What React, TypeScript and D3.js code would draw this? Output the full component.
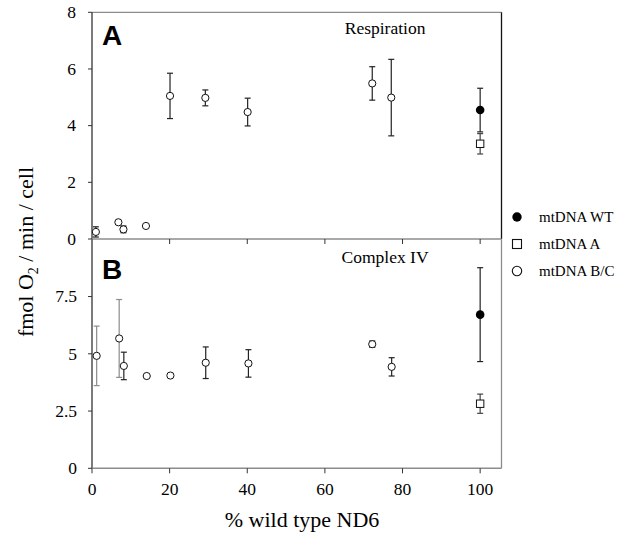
import React from "react";
import * as d3 from "d3";

// ---- data ----
const xTicks = [0, 20, 40, 60, 80, 100];
const yTicksA = [0, 2, 4, 6, 8];
const yTicksB = [0, 2.5, 5, 7.5];

// Panel A: Respiration
const respX = [1, 6.8, 8.1, 13.9, 20.1, 29.2, 40.1, 72.2, 77.1];
const respBC = [0.25, 0.59, 0.34, 0.46, 5.05, 4.98, 4.48, 5.49, 4.99];
const respBCErr = [0.18, 0, 0.12, 0, 0.8, 0.28, 0.49, 0.59, 1.35];
const respBCGray = [false, false, false, false, false, false, false, false, false];
const respWTX = [100];
const respWT = [4.55];
const respWTErr = [0.77];
const respAX = [100];
const respA = [3.36];
const respAErr = [0.36];

// Panel B: Complex IV
const cxX = [1.2, 7.0, 8.2, 14.1, 20.2, 29.3, 40.3, 72.2, 77.2];
const cxBC = [4.91, 5.67, 4.47, 4.03, 4.05, 4.61, 4.58, 5.42, 4.43];
const cxBCErr = [1.3, 1.7, 0.6, 0, 0, 0.69, 0.6, 0.14, 0.4];
const cxBCGray = [true, true, false, false, false, false, false, false, false];
const cxWTX = [100];
const cxWT = [6.71];
const cxWTErr = [2.05];
const cxAX = [100];
const cxA = [2.82];
const cxAErr = [0.42];

const legendLabels = ["mtDNA WT", "mtDNA A", "mtDNA B/C"];

const SERIF = "'Liberation Serif', 'Times New Roman', serif";
const SANS = "'Liberation Sans', Arial, sans-serif";
const GRAY = "#8c8c8c";
const DARK = "#222";

const x = d3.scaleLinear().domain([0, 105.5]).range([92, 501.5]);
const yA = d3.scaleLinear().domain([0, 8]).range([239, 12.3]);
const yB = d3.scaleLinear().domain([0, 10]).range([468.3, 239.3]);

function ErrBar({ cx, y, v, e, color }: { cx: number; y: any; v: number; e: number; color: string }) {
  if (!e) return null;
  const t = y(v + e);
  const b = y(v - e);
  return (
    <g stroke={color} strokeWidth={1.2}>
      <line x1={cx} x2={cx} y1={t} y2={b} />
      <line x1={cx - 3} x2={cx + 3} y1={t} y2={t} />
      <line x1={cx - 3} x2={cx + 3} y1={b} y2={b} />
    </g>
  );
}

function Panel({
  y, bcX, bc, bcErr, bcGray, wtX, wt, wtErr, aX, a, aErr, letter, title, titleY, letterY,
}: any) {
  return (
    <g>
      {/* error bars */}
      {bcX.map((xv: number, i: number) => (
        <ErrBar key={"e" + i} cx={x(xv)} y={y} v={bc[i]} e={bcErr[i]} color={bcGray[i] ? GRAY : DARK} />
      ))}
      {wtX.map((xv: number, i: number) => (
        <ErrBar key={"w" + i} cx={x(xv)} y={y} v={wt[i]} e={wtErr[i]} color={DARK} />
      ))}
      {aX.map((xv: number, i: number) => (
        <ErrBar key={"a" + i} cx={x(xv)} y={y} v={a[i]} e={aErr[i]} color={"#444"} />
      ))}
      {/* markers */}
      {bcX.map((xv: number, i: number) => (
        <circle key={"c" + i} cx={x(xv)} cy={y(bc[i])} r={3.6} fill="#fff" stroke="#111" strokeWidth={1} />
      ))}
      {wtX.map((xv: number, i: number) => (
        <circle key={"wc" + i} cx={x(xv)} cy={y(wt[i])} r={4.3} fill="#000" />
      ))}
      {aX.map((xv: number, i: number) => (
        <rect key={"ar" + i} x={x(xv) - 3.7} y={y(a[i]) - 3.7} width={7.4} height={7.4} fill="#fff" stroke="#111" strokeWidth={1} />
      ))}
      <text x={102} y={letterY} fontFamily={SANS} fontWeight="bold" fontSize={28} fill="#000">{letter}</text>
      <text x={x(75.5)} y={titleY} textAnchor="middle" fontFamily={SERIF} fontSize={17.5} fill="#000">{title}</text>
    </g>
  );
}

export default function App() {
  const x0 = x(0);
  const x1 = x(105.5);
  return (
    <svg width={620} height={533} style={{ position: "absolute", left: 0, top: 0, background: "#fff" }}>
      <rect x={0} y={0} width={620} height={533} fill="#fff" />
      {/* Panel A frame */}
      <line x1={x0} x2={x1} y1={yA(8)} y2={yA(8)} stroke={GRAY} strokeWidth={1.3} />
      <line x1={x1} x2={x1} y1={yA(8)} y2={yA(0)} stroke="#111" strokeWidth={1.3} />
      <line x1={x0} x2={x0} y1={yA(8)} y2={yA(0)} stroke="#333" strokeWidth={1.3} />
      <line x1={x0} x2={x1} y1={yA(0)} y2={yA(0)} stroke={GRAY} strokeWidth={1.5} />
      {/* Panel B frame */}
      <line x1={x1} x2={x1} y1={yB(10)} y2={yB(0)} stroke={GRAY} strokeWidth={1.3} />
      <line x1={x0} x2={x0} y1={yB(10)} y2={yB(0)} stroke="#333" strokeWidth={1.3} />
      <line x1={x0} x2={x1} y1={yB(0)} y2={yB(0)} stroke={GRAY} strokeWidth={1.5} />

      {/* x ticks middle (between panels) */}
      {xTicks.filter((t) => t > 0).map((t) => (
        <line key={"mt" + t} x1={x(t)} x2={x(t)} y1={yA(0)} y2={yA(0) + 5} stroke="#333" strokeWidth={1} />
      ))}
      {/* x ticks bottom */}
      {xTicks.map((t) => (
        <g key={"bt" + t}>
          <line x1={x(t)} x2={x(t)} y1={yB(0)} y2={yB(0) + 5} stroke="#333" strokeWidth={1} />
          <text x={x(t)} y={yB(0) + 27} textAnchor="middle" fontFamily={SERIF} fontSize={17.5} fill="#000">{t}</text>
        </g>
      ))}
      {/* y ticks A */}
      {yTicksA.map((t) => (
        <g key={"ya" + t}>
          <line x1={x0 - 4} x2={x0} y1={yA(t)} y2={yA(t)} stroke="#333" strokeWidth={1} />
          <text x={76} y={yA(t)} dy="0.33em" textAnchor="end" fontFamily={SERIF} fontSize={17.5} fill="#000">{t}</text>
        </g>
      ))}
      {/* y ticks B */}
      {yTicksB.map((t) => (
        <g key={"yb" + t}>
          <line x1={x0 - 4} x2={x0} y1={yB(t)} y2={yB(t)} stroke="#333" strokeWidth={1} />
          <text x={77} y={yB(t)} dy="0.33em" textAnchor="end" fontFamily={SERIF} fontSize={17.5} fill="#000">{t}</text>
        </g>
      ))}

      <Panel y={yA} bcX={respX} bc={respBC} bcErr={respBCErr} bcGray={respBCGray}
        wtX={respWTX} wt={respWT} wtErr={respWTErr} aX={respAX} a={respA} aErr={respAErr}
        letter="A" title="Respiration" titleY={34} letterY={45} />
      <Panel y={yB} bcX={cxX} bc={cxBC} bcErr={cxBCErr} bcGray={cxBCGray}
        wtX={cxWTX} wt={cxWT} wtErr={cxWTErr} aX={cxAX} a={cxA} aErr={cxAErr}
        letter="B" title="Complex IV" titleY={263} letterY={279} />

      {/* axis titles */}
      <text x={302} y={527} textAnchor="middle" fontFamily={SERIF} fontSize={22} fill="#000">% wild type ND6</text>
      <text transform="translate(33,252) rotate(-90)" textAnchor="middle" fontFamily={SERIF} fontSize={22} fill="#000">
        fmol O<tspan fontSize={14} dy={5}>2</tspan><tspan dy={-5}> / min / cell</tspan>
      </text>

      {/* legend */}
      <circle cx={517} cy={217} r={4.7} fill="#000" />
      <rect x={512.5} y={239.5} width={9} height={9} fill="#fff" stroke="#111" strokeWidth={1.1} />
      <circle cx={517} cy={271} r={4.7} fill="#fff" stroke="#111" strokeWidth={1.1} />
      {legendLabels.map((l, i) => (
        <text key={l} x={539} y={217 + i * 27} dy="0.35em" fontFamily={SERIF} fontSize={15} fill="#000">{l}</text>
      ))}
    </svg>
  );
}
